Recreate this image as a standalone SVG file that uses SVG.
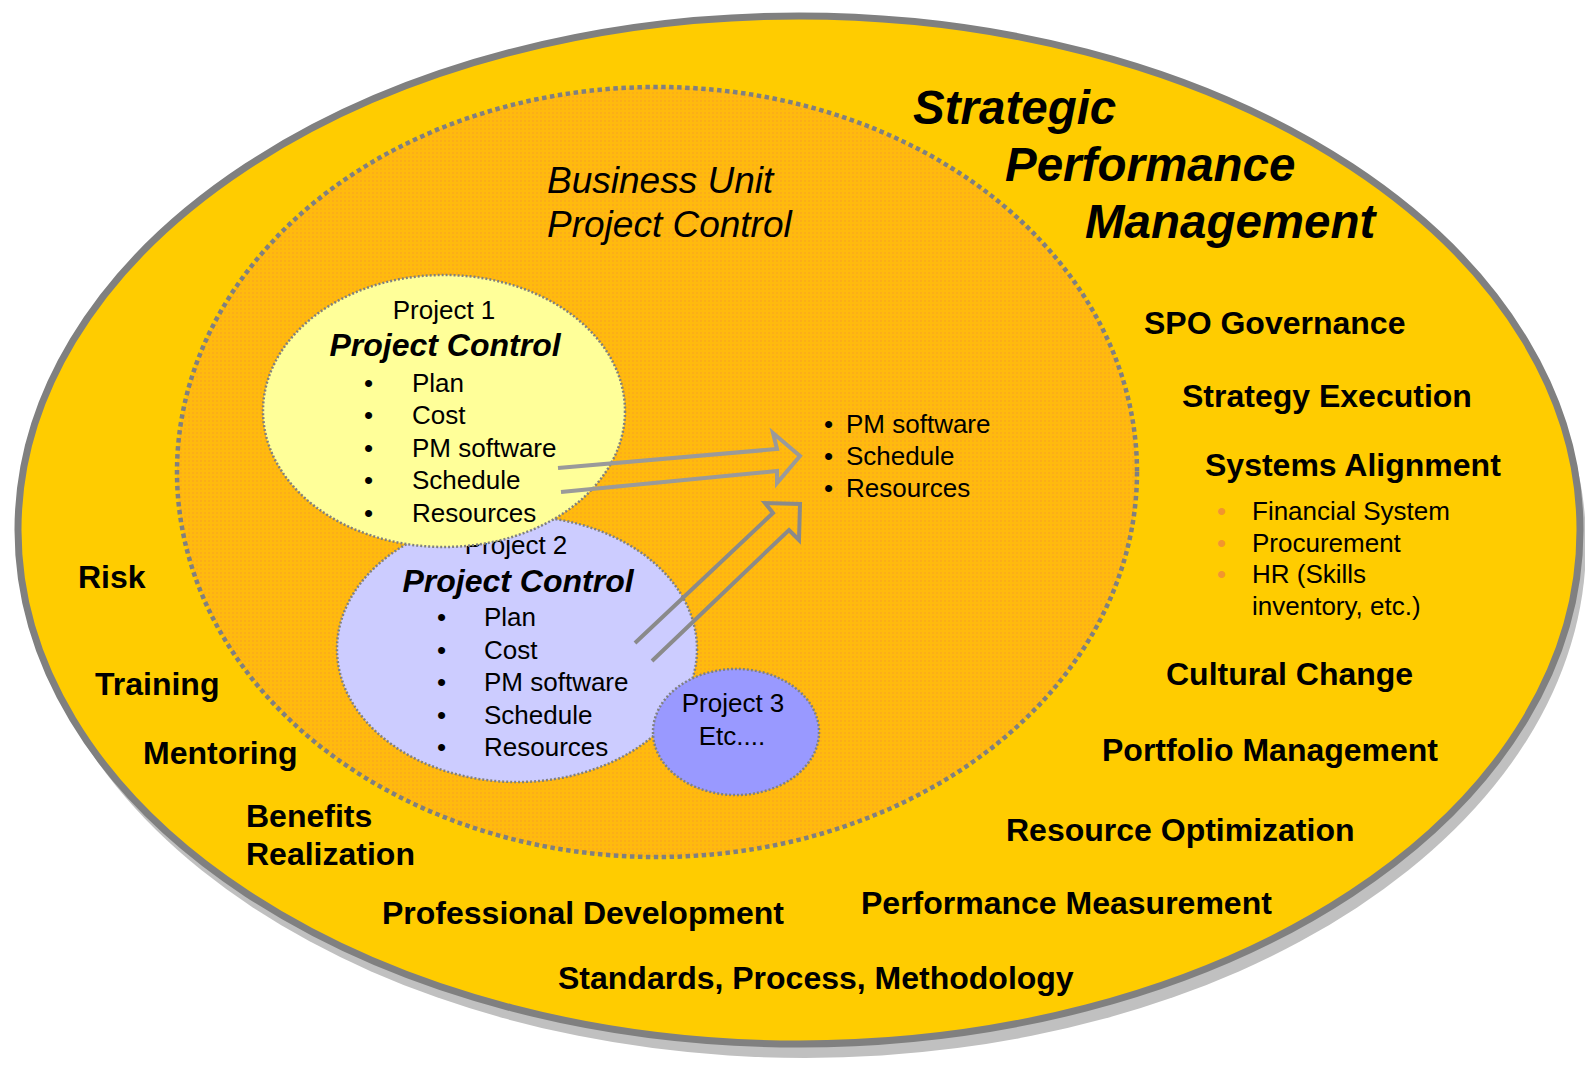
<svg xmlns="http://www.w3.org/2000/svg" width="1585" height="1065" viewBox="0 0 1585 1065">
<style>
.lbl{font-family:"Liberation Sans",Arial,sans-serif;font-weight:bold;font-size:32px;fill:#000}
.title{font-family:"Liberation Sans",Arial,sans-serif;font-weight:bold;font-style:italic;font-size:47.5px;fill:#000}
.bu{font-family:"Liberation Sans",Arial,sans-serif;font-style:italic;font-size:37px;fill:#000}
.t26{font-family:"Liberation Sans",Arial,sans-serif;font-size:26px;fill:#000}
.pc{font-family:"Liberation Sans",Arial,sans-serif;font-weight:bold;font-style:italic;font-size:32px;fill:#000}
.ob{fill:#F29530}
.proj{stroke:#808080;stroke-width:2.5;stroke-dasharray:2 2}
.arrow{fill:none;stroke-width:4;stroke-linejoin:miter}
</style>
<defs>
<pattern id="tex" width="4" height="4" patternUnits="userSpaceOnUse">
<rect width="4" height="4" fill="#FFBA0E"/>
<rect width="2" height="2" fill="#FCAE18"/>
</pattern>
</defs>
<g id="spm">
<ellipse cx="805" cy="544" rx="781" ry="514" fill="#C0C0C0"/>
<ellipse cx="799" cy="530" rx="781" ry="514" fill="#FFCC00" stroke="#808080" stroke-width="7"/>
<text class="title" x="913" y="124">Strategic</text>
<text class="title" x="1005" y="181">Performance</text>
<text class="title" x="1085" y="238">Management</text>
<text class="lbl" x="1144" y="334">SPO Governance</text>
<text class="lbl" x="1182" y="407">Strategy Execution</text>
<text class="lbl" x="1205" y="476">Systems Alignment</text>
<text class="t26 ob" x="1217" y="520">•</text>
<text class="t26" x="1252" y="520">Financial System</text>
<text class="t26 ob" x="1217" y="552">•</text>
<text class="t26" x="1252" y="552">Procurement</text>
<text class="t26 ob" x="1217" y="583">•</text>
<text class="t26" x="1252" y="583">HR (Skills</text>
<text class="t26" x="1252" y="615">inventory, etc.)</text>
<text class="lbl" x="1166" y="685">Cultural Change</text>
<text class="lbl" x="1102" y="761">Portfolio Management</text>
<text class="lbl" x="1006" y="841">Resource Optimization</text>
<text class="lbl" x="861" y="914">Performance Measurement</text>
<text class="lbl" x="558" y="989">Standards, Process, Methodology</text>
<text class="lbl" x="382" y="924">Professional Development</text>
<text class="lbl" x="246" y="827">Benefits</text>
<text class="lbl" x="246" y="865">Realization</text>
<text class="lbl" x="143" y="764">Mentoring</text>
<text class="lbl" x="95" y="695">Training</text>
<text class="lbl" x="78" y="588">Risk</text>
</g>
<g id="business-unit">
<ellipse cx="657" cy="472" rx="480" ry="385" fill="url(#tex)" stroke="#808080" stroke-width="4.5" stroke-dasharray="4.5 3.5"/>
<text class="bu" x="547" y="193">Business Unit</text>
<text class="bu" x="547" y="237">Project Control</text>
<text class="t26" x="824" y="433">•</text>
<text class="t26" x="846" y="433">PM software</text>
<text class="t26" x="824" y="465">•</text>
<text class="t26" x="846" y="465">Schedule</text>
<text class="t26" x="824" y="497">•</text>
<text class="t26" x="846" y="497">Resources</text>
</g>
<g id="project2">
<ellipse class="proj" cx="517" cy="649" rx="180" ry="133" fill="#CCCCFF"/>
<text class="t26" x="516" y="554" text-anchor="middle">Project 2</text>
<text class="pc" x="518" y="592" text-anchor="middle">Project Control</text>
<text class="t26" x="437" y="626">•</text>
<text class="t26" x="484" y="626">Plan</text>
<text class="t26" x="437" y="659">•</text>
<text class="t26" x="484" y="659">Cost</text>
<text class="t26" x="437" y="691">•</text>
<text class="t26" x="484" y="691">PM software</text>
<text class="t26" x="437" y="724">•</text>
<text class="t26" x="484" y="724">Schedule</text>
<text class="t26" x="437" y="756">•</text>
<text class="t26" x="484" y="756">Resources</text>
</g>
<g id="project3">
<ellipse class="proj" cx="736" cy="732" rx="83" ry="63" fill="#9999FF"/>
<text class="t26" x="733" y="712" text-anchor="middle">Project 3</text>
<text class="t26" x="732" y="745" text-anchor="middle">Etc....</text>
</g>
<g id="project1">
<ellipse class="proj" cx="444" cy="411" rx="181" ry="136" fill="#FFFF99"/>
<text class="t26" x="444" y="319" text-anchor="middle">Project 1</text>
<text class="pc" x="445" y="356" text-anchor="middle">Project Control</text>
<text class="t26" x="364" y="392">•</text>
<text class="t26" x="412" y="392">Plan</text>
<text class="t26" x="364" y="424">•</text>
<text class="t26" x="412" y="424">Cost</text>
<text class="t26" x="364" y="457">•</text>
<text class="t26" x="412" y="457">PM software</text>
<text class="t26" x="364" y="489">•</text>
<text class="t26" x="412" y="489">Schedule</text>
<text class="t26" x="364" y="522">•</text>
<text class="t26" x="412" y="522">Resources</text>
</g>
<g id="connectors">
<path class="arrow" stroke="#9A9A9A" d="M558,468 L777,449 L773,433 L800,456 L777,483 L777,471 L561,492"/>
<path class="arrow" stroke="#8A8A8A" d="M635,643 L773,513 L765,503 L800,504 L799,540 L789,530 L652,661"/>
</g>
</svg>
